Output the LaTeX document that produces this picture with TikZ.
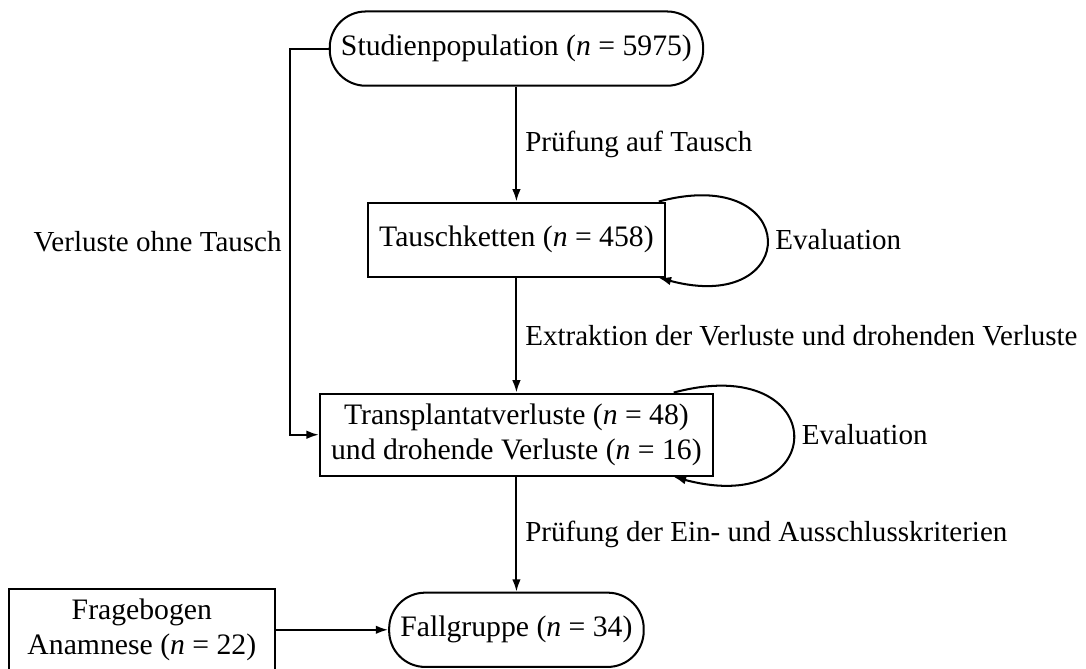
\documentclass[tikz,border=0pt]{standalone}
\usepackage{fontspec}
\setmainfont{Liberation Serif}
\usetikzlibrary{arrows.meta,positioning,calc}

\begin{document}
\begin{tikzpicture}[% styles for the whole chart
					every node/.style={
						align=center,		% "\\" breaks the line
						font=\fontsize{13.2pt}{15.6pt}\selectfont,
						inner xsep=5pt,
						inner ysep=4.5pt,
						minimum height=33pt	% same height for all boxes
						},
					box/.style={rectangle,draw=black,line width=0.9pt},
					pill/.style={rectangle,draw=black,line width=0.9pt,rounded corners=16pt},
					lbl/.style={minimum height=0pt,inner sep=3.5pt,font=\fontsize{12.9pt}{15pt}\selectfont},
					>={Latex[length=5.5pt,width=3.8pt]},
					every edge/.style={draw,line width=0.9pt,->},
					evalloop/.style={out=15,in=-15,looseness=5},
					node distance=51pt
					]
\useasboundingbox (-229.5pt,21.6pt) rectangle (253.1pt,-275.3pt);
\node[pill](S){Studienpopulation (\textit{n} = 5975)};
\node[box](T)[below= of S]{Tauschketten (\textit{n} = 458)};
\node[box](V)[below= of T]{Transplantatverluste (\textit{n} = 48)\\ und drohende Verluste (\textit{n} = 16)};
\node[pill](F)[below= of V]{Fallgruppe (\textit{n} = 34)};
\node[box,minimum width=118pt](A)[left= 50pt of F]{Fragebogen\\ Anamnese (\textit{n} = 22)};
\coordinate[left= 17pt of S.west](K);
\path
(S)edge []     node [lbl,right] {Prüfung auf Tausch} (T)
(T)edge []     node [lbl,right] {Extraktion der Verluste und drohenden Verluste} (V)
(V)edge []     node [lbl,right] {Prüfung der Ein- und Ausschlusskriterien} (F)
(A)edge []     (F)
;
\draw[line width=0.9pt,->] (T) to[evalloop] node [lbl,right] {Evaluation} (T);
\draw[line width=0.9pt,->] (V) to[evalloop] node [lbl,right] {Evaluation} (V);
\draw[line width=0.9pt,->] (S.west) -- (K) |- node [lbl,pos=0.25,left] {Verluste ohne Tausch} (V.west);
\end{tikzpicture}
\end{document}
